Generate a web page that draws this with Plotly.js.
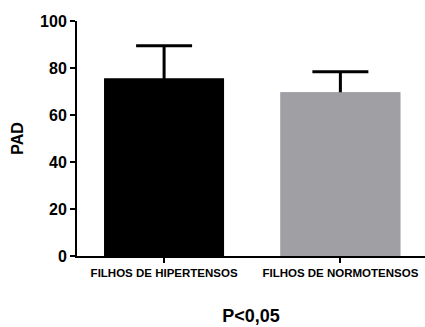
<!DOCTYPE html>
<html><head><meta charset="utf-8">
<script src="https://cdn.plot.ly/plotly-3.0.1.min.js"></script>
<style>html,body{margin:0;padding:0;background:#fff}#c{width:425px;height:327px}</style>
</head><body><div id="c"></div>
<script>
const categories = ["FILHOS DE HIPERTENSOS", "FILHOS DE NORMOTENSOS"];
const means = [75.5, 69.7];
const errPlus = [14.0, 8.7];
const barColors = ["#000000", "#a09fa4"];
const yTicks = [0, 20, 40, 60, 80, 100];

const xs = categories.map((c, i) => i);
Plotly.newPlot("c", [{
  type: "bar",
  x: xs,
  y: means,
  width: 0.68,
  marker: {color: barColors, line: {width: 0}},
  error_y: {type: "data", array: errPlus, color: "#000", thickness: 3, width: 28},
  hoverinfo: "none"
}, {
  type: "bar",
  x: xs,
  y: means,
  width: 0.68,
  marker: {color: barColors, line: {width: 0}},
  hoverinfo: "none"
}], {
  width: 425, height: 327,
  barmode: "overlay",
  margin: {l: 77, r: 0, t: 21, b: 71},
  paper_bgcolor: "#fff", plot_bgcolor: "#fff",
  showlegend: false,
  font: {family: "Liberation Sans, Arial, sans-serif", color: "#000"},
  xaxis: {
    range: [-0.494, 1.48],
    tickvals: xs, ticktext: categories,
    ticks: "outside", ticklen: 5, tickwidth: 2, tickcolor: "#000",
    tickfont: {size: 11.5, weight: "bold"},
    showline: true, linewidth: 2, linecolor: "#000",
    showgrid: false, zeroline: false,
    title: {text: "<b>P<0,05</b>", font: {size: 18}, standoff: 32}
  },
  yaxis: {
    range: [0, 100],
    tickvals: yTicks,
    ticks: "outside", ticklen: 5, tickwidth: 2, tickcolor: "#000",
    tickfont: {size: 16, weight: "bold"},
    showline: true, linewidth: 2, linecolor: "#000",
    showgrid: false, zeroline: false,
    title: {text: "<b>PAD</b>", font: {size: 16}, standoff: 12}
  }
}, {displayModeBar: false, staticPlot: true});
</script></body></html>
